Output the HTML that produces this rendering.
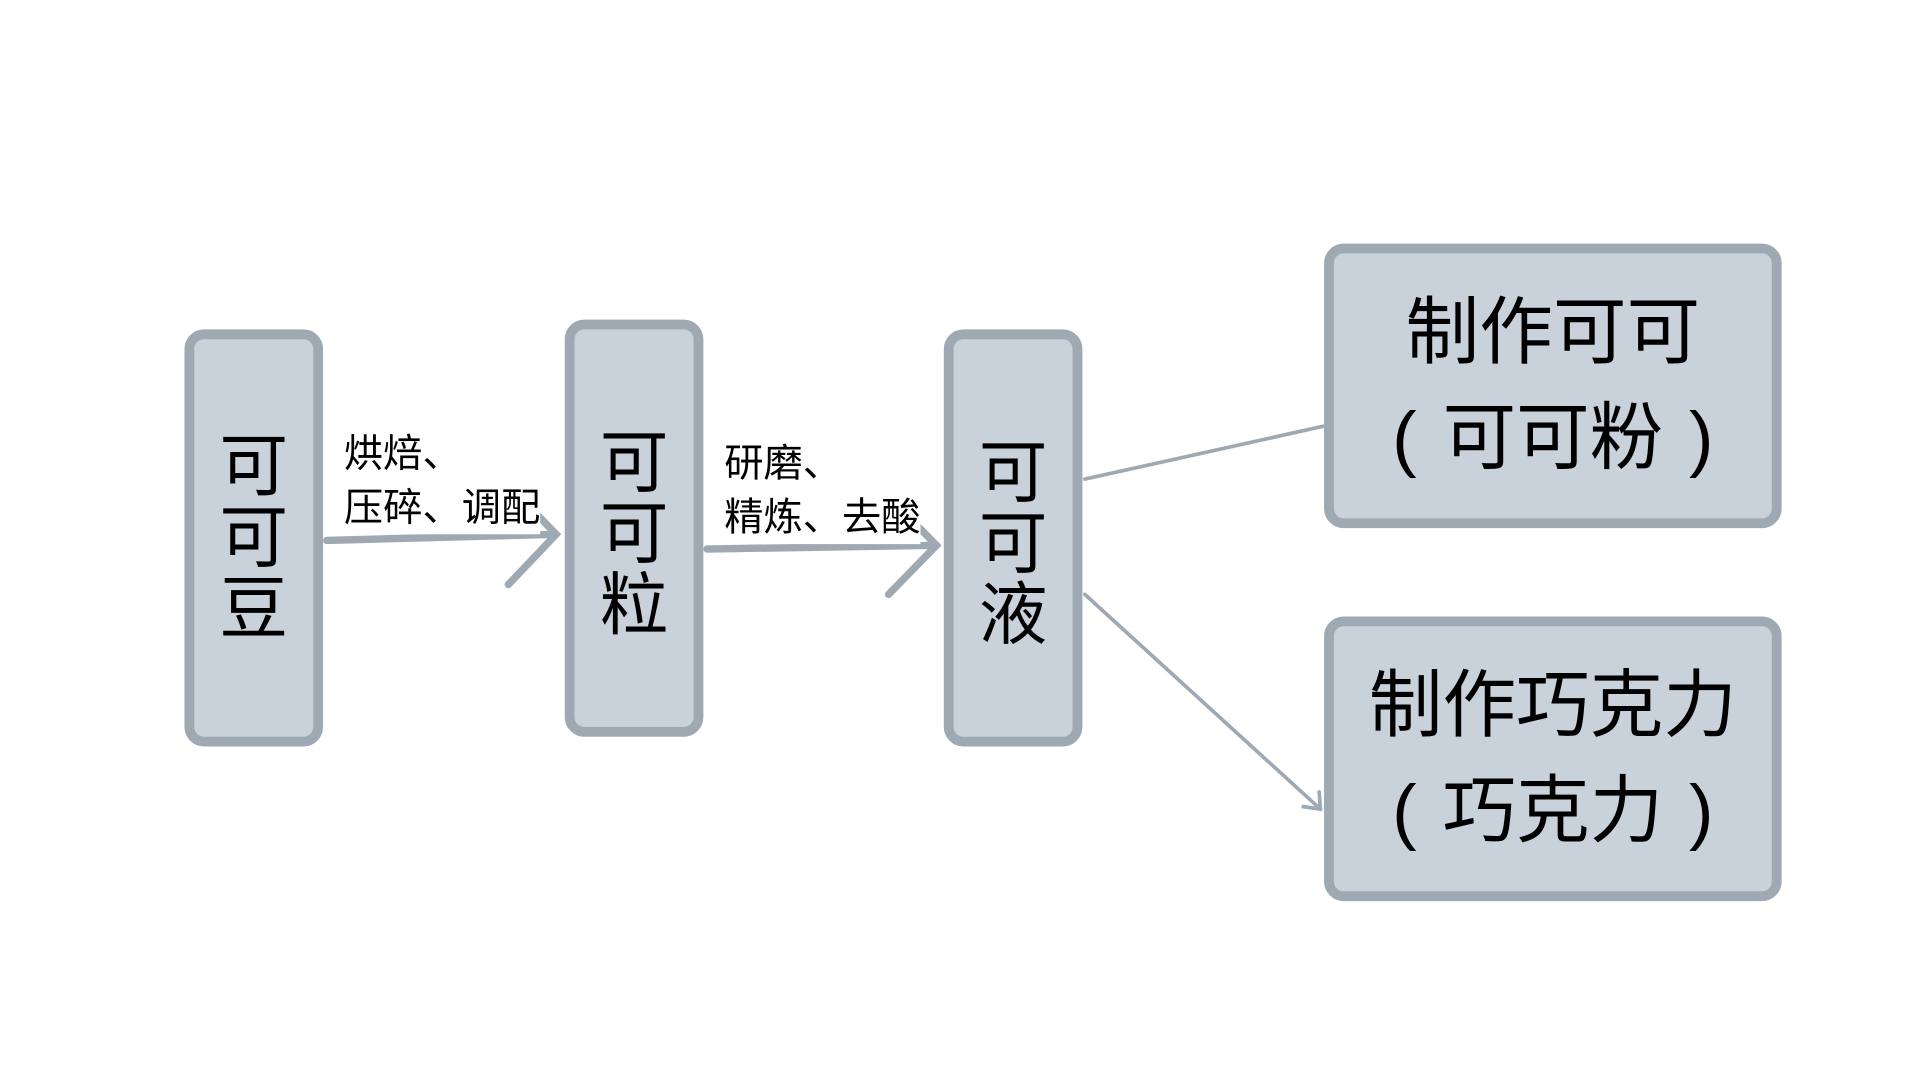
<!DOCTYPE html>
<html><head><meta charset="utf-8"><style>
html,body{margin:0;padding:0;background:#fff;overflow:hidden;}
#w{width:1570px;height:882px;position:relative;transform:translate(-2px,-3px) scale(1.2267);transform-origin:0 0;font-family:"Liberation Sans","Noto Sans CJK SC",sans-serif;}
.b{position:absolute;box-sizing:border-box;border:8px solid #9ea9b4;background:#c9d1db;border-radius:16px;display:flex;align-items:center;justify-content:center;text-align:center;color:#000;}
.v{font-size:56px;line-height:58px;width:60px;}
.h{font-size:60px;line-height:86px;white-space:nowrap;}
.p{display:inline-block;width:62px;text-align:center;}
.l{position:absolute;font-size:32px;line-height:44px;color:#000;white-space:nowrap;background:#fff;}
svg{position:absolute;left:0;top:0;}
</style></head><body><div id="w">
<svg width="1552" height="873">
<g stroke="#9ea9b4" fill="none" stroke-linecap="round">
<line x1="268" y1="443" x2="455" y2="438" stroke-width="6"/>
<polyline points="416,398 455,438 416,479" stroke-width="6"/>
<line x1="578" y1="450" x2="765" y2="447" stroke-width="6"/>
<polyline points="726,407 765,447 726,487" stroke-width="6"/>
<line x1="886" y1="393" x2="1080" y2="350" stroke-width="3"/>
<line x1="886" y1="487" x2="1078" y2="662" stroke-width="3"/>
<polyline points="1064,660 1078,662 1077,648" stroke-width="3"/>
</g></svg>
<div class="b" style="left:152px;top:271px;width:113px;height:340px"><div class="v">可可豆</div></div>
<div class="b" style="left:462px;top:263px;width:113px;height:340px"><div class="v" style="margin-top:10px">可可粒</div></div>
<div class="b" style="left:771px;top:271px;width:113px;height:340px"><div class="v" style="margin-top:10px">可可液</div></div>
<div class="b" style="left:1081px;top:201px;width:373px;height:232px"><div class="h">制作可可<br><span class="p">(</span>可可粉<span class="p">)</span></div></div>
<div class="b" style="left:1081px;top:505px;width:373px;height:232px"><div class="h">制作巧克力<br><span class="p">(</span>巧克力<span class="p">)</span></div></div>
<div class="l" style="left:282px;top:350px">烘焙、<br>压碎、调配</div>
<div class="l" style="left:592px;top:358px">研磨、<br>精炼、去酸</div>
</div></body></html>
